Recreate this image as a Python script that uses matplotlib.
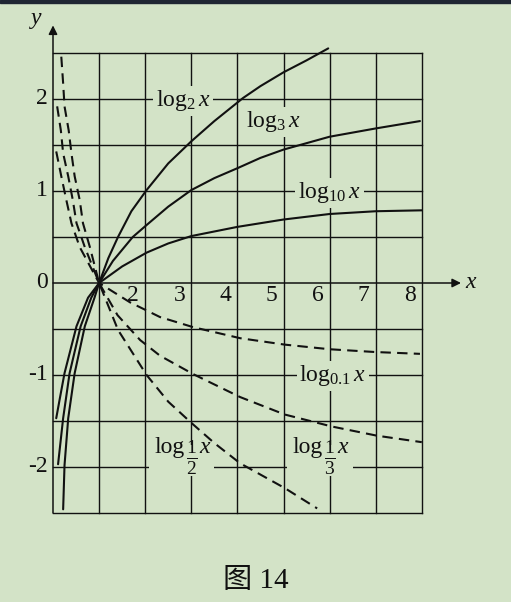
import numpy as np
import matplotlib
matplotlib.use("Agg")
import matplotlib.pyplot as plt
from matplotlib.patches import Rectangle

plt.rcParams['font.family'] = ['Liberation Serif', 'Noto Sans CJK SC']
plt.rcParams['mathtext.fontset'] = 'custom'
plt.rcParams['mathtext.rm'] = 'Liberation Serif'
plt.rcParams['mathtext.it'] = 'Liberation Serif:italic'

BG = '#d3e3c7'
INK = '#111111'

# curves (x, y)
log2_x = [0.22, 0.25, 0.33, 0.47, 0.69, 0.90, 1.0, 1.2, 1.41, 1.7, 2.03, 2.5, 3.0, 3.5, 4.12, 4.5, 5.0, 5.5, 5.97]
log2_y = [-2.46, -1.98, -1.47, -0.98, -0.47, -0.16, 0.0, 0.27, 0.5, 0.78, 1.01, 1.3, 1.54, 1.76, 2.01, 2.14, 2.29, 2.42, 2.55]

log3_x = [0.11, 0.22, 0.36, 0.60, 0.83, 1.0, 1.3, 1.73, 2.03, 2.5, 3.0, 3.5, 4.01, 4.5, 5.0, 6.0, 7.0, 7.96]
log3_y = [-1.97, -1.47, -0.98, -0.47, -0.16, 0.0, 0.24, 0.5, 0.63, 0.83, 1.01, 1.14, 1.25, 1.36, 1.45, 1.59, 1.68, 1.76]

log10_x = [0.07, 0.15, 0.25, 0.51, 0.76, 1.0, 1.5, 2.03, 2.5, 3.0, 4.0, 4.5, 5.0, 6.0, 7.0, 8.0]
log10_y = [-1.47, -1.25, -0.98, -0.47, -0.16, 0.0, 0.18, 0.33, 0.43, 0.51, 0.61, 0.65, 0.69, 0.75, 0.78, 0.79]

half_x = [0.18, 0.22, 0.25, 0.34, 0.40, 0.47, 0.58, 0.65, 0.80, 1.0, 1.41, 2.03, 2.5, 3.0, 3.5, 4.06, 5.03, 5.73]
half_y = [2.46, 2.17, 1.92, 1.66, 1.41, 1.16, 0.90, 0.65, 0.39, 0.0, -0.51, -1.0, -1.29, -1.52, -1.74, -1.96, -2.23, -2.45]

third_x = [0.09, 0.17, 0.22, 0.33, 0.43, 0.51, 0.69, 1.0, 1.4, 1.89, 2.32, 3.04, 4.06, 5.03, 6.05, 7.03, 8.0]
third_y = [1.92, 1.66, 1.41, 1.16, 0.90, 0.65, 0.39, 0.0, -0.35, -0.62, -0.79, -0.99, -1.24, -1.43, -1.56, -1.66, -1.73]

tenth_x = [0.07, 0.18, 0.29, 0.40, 0.58, 1.0, 1.67, 2.32, 3.04, 4.06, 5.03, 6.0, 6.98, 7.96]
tenth_y = [1.43, 1.16, 0.90, 0.65, 0.39, 0.0, -0.21, -0.37, -0.48, -0.6, -0.67, -0.72, -0.75, -0.77]

x_ticks = [2, 3, 4, 5, 6, 7, 8]
y_ticks = [2, 1, 0, -1, -2]

fig = plt.figure(figsize=(5.11, 6.02), dpi=100, facecolor=BG)
ax = fig.add_axes([0, 0, 1, 1])
ax.set_facecolor(BG)
# 46.1 px per x unit, 92 px per y unit, origin at pixel (53, 283)
ax.set_xlim(-53 / 46.1, (511 - 53) / 46.1)
ax.set_ylim((283 - 602) / 92, 283 / 92)
ax.axis('off')

# grid
for gx in range(1, 9):
    ax.plot([gx, gx], [-2.5, 2.5], color=INK, lw=1.0, zorder=1)
for gy in np.arange(-2.5, 2.51, 0.5):
    if abs(gy) < 1e-9:
        continue
    ax.plot([0, 8], [gy, gy], color=INK, lw=1.0, zorder=1)

# axes with arrows
ax.annotate('', xy=(8.85, 0), xytext=(0, 0),
            arrowprops=dict(arrowstyle='-|>', color=INK, lw=1.1, mutation_scale=13, shrinkA=0, shrinkB=0))
ax.annotate('', xy=(0, 2.8), xytext=(0, -2.5),
            arrowprops=dict(arrowstyle='-|>', color=INK, lw=1.1, mutation_scale=13, shrinkA=0, shrinkB=0))
ax.text(9.05, 0.0, 'x', style='italic', fontsize=17, ha='center', va='center', color=INK)
ax.text(-0.36, 2.87, 'y', style='italic', fontsize=17, ha='center', va='center', color=INK)

# curves
solid = dict(color=INK, lw=1.5, zorder=3, solid_capstyle='round', solid_joinstyle='round')
dashed = dict(color=INK, lw=1.5, zorder=3, linestyle=(0, (5, 3)))
ax.plot(log2_x, log2_y, **solid)
ax.plot(log3_x, log3_y, **solid)
ax.plot(log10_x, log10_y, **solid)
ax.plot(half_x, half_y, **dashed)
ax.plot(third_x, third_y, **dashed)
ax.plot(tenth_x, tenth_y, **dashed)

# tick labels
for t in x_ticks:
    ax.text(t - 0.26, -0.14, str(t), fontsize=17, ha='center', va='center', color=INK)
for t in y_ticks:
    ax.text(-0.12, t, str(t), fontsize=17, ha='right', va='center', color=INK)

# curve labels
box = dict(boxstyle='square,pad=0.12', fc=BG, ec='none')
lab = dict(fontsize=17, ha='center', va='center', color=INK, bbox=box, zorder=4)
ax.text(2.82, 1.98, r'$\log_2 x$', **lab)
ax.text(4.77, 1.75, r'$\log_3 x$', **lab)
ax.text(6.0, 0.98, r'$\log_{10} x$', **lab)
ax.text(6.07, -1.01, r'$\log_{0.1} x$', **lab)


def frac_label(x0, base, den):
    # "log" + stacked 1/den fraction + "x", built from pieces like the print
    ax.add_patch(Rectangle((x0 - 0.12, -2.1), 1.42, 0.34, fc=BG, ec='none', zorder=2))
    ax.text(x0, base, 'log', fontsize=17, ha='left', va='baseline', color=INK, zorder=4)
    ax.text(x0 + 0.81, base - 0.05, r'$\frac{1}{%d}$' % den, fontsize=20,
            ha='center', va='center', color=INK, zorder=4)
    ax.text(x0 + 0.97, base, 'x', style='italic', fontsize=17, ha='left', va='baseline',
            color=INK, zorder=4)


frac_label(2.2, -1.85, 2)
frac_label(5.2, -1.85, 3)

# caption
fig.text(0.5, 1 - 581 / 602, '图 14', fontsize=21, ha='center', va='center', color=INK)

# dark strip along the top edge
fig.add_artist(Rectangle((0, 1 - 3 / 602), 1, 3 / 602, transform=fig.transFigure, color='#1f2633'))

fig.savefig('out.png', dpi=100, facecolor=BG)
